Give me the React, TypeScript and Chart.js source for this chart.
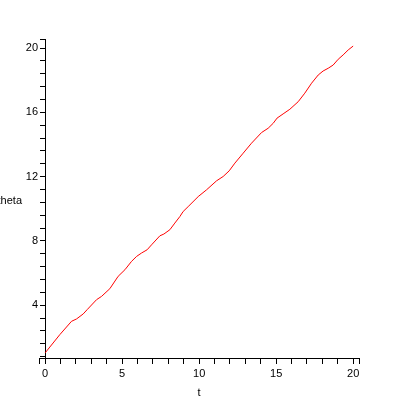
import { useEffect, useRef } from "react";
import { Chart, registerables } from "chart.js";

Chart.register(...registerables);

// curve
const tValues = [
  0, 0.95, 1.71, 2.04, 2.47, 2.73, 3.34, 3.66, 4.2, 4.74,
  5.18, 5.61, 5.94, 6.26, 6.62, 6.91, 7.45, 7.71, 8.1, 8.42,
  8.75, 8.96, 9.29, 9.94, 10.48, 11.13, 11.56, 11.95, 12.32, 12.86,
  13.4, 14.05, 14.48, 14.81, 15.06, 15.45, 15.89, 16.43, 16.86, 17.3,
  17.73, 18.05, 18.38, 18.7, 19.03, 19.35, 19.68, 20,
];
const thetaValues = [
  1.04, 2.17, 3.0, 3.15, 3.46, 3.73, 4.35, 4.55, 5.03, 5.8,
  6.21, 6.73, 7.04, 7.25, 7.45, 7.76, 8.32, 8.43, 8.7, 9.11,
  9.52, 9.83, 10.14, 10.76, 11.18, 11.74, 12.01, 12.36, 12.84, 13.46,
  14.08, 14.74, 15.01, 15.32, 15.64, 15.9, 16.19, 16.66, 17.19, 17.81,
  18.32, 18.57, 18.74, 18.94, 19.3, 19.57, 19.88, 20.12,
];

const xMajorTicks = [0, 5, 10, 15, 20];
const yMajorTicks = [4, 8, 12, 16, 20];
const xMinorStep = 1;
const yMinorStep = 0.8;
const xRange = [-0.4, 20.38];
const yRange = [0.72, 20.56];
const xTitle = "t";
const yTitle = "theta";

const FONT = { family: "'Liberation Sans', Arial, sans-serif", size: 11 };

function tickList(range: number[], step: number) {
  const out = [range[0]];
  for (let k = Math.ceil(range[0] / step - 1e-9); k * step <= range[1] + 1e-9; k++) {
    const v = Math.round(k * step * 100) / 100;
    if (v > range[0]) out.push(v);
  }
  out.push(range[1]);
  return out;
}

const yTitlePlugin = {
  id: "yTitle",
  afterDraw(chart: Chart) {
    const { ctx, chartArea } = chart;
    ctx.save();
    ctx.font = `${FONT.size}px ${FONT.family}`;
    ctx.fillStyle = "#000";
    ctx.textAlign = "right";
    ctx.textBaseline = "middle";
    ctx.fillText(yTitle, 22, (chartArea.top + chartArea.bottom) / 2 + 2);
    ctx.restore();
  },
};

export default function App() {
  const canvasRef = useRef<HTMLCanvasElement>(null);

  useEffect(() => {
    if (!canvasRef.current) return;
    const yTicks = (scale: any) => {
      scale.ticks = tickList(yRange, yMinorStep).map((value) => ({ value }));
    };
    const chart = new Chart(canvasRef.current, {
      type: "scatter",
      data: {
        datasets: [
          {
            data: tValues.map((t, i) => ({ x: t, y: thetaValues[i] })),
            showLine: true,
            borderColor: "#ff0000",
            borderWidth: 1,
            pointRadius: 0,
            tension: 0,
          },
        ],
      },
      options: {
        responsive: false,
        animation: false,
        layout: { padding: { left: 0, right: 41, top: 39, bottom: 0 } },
        plugins: { legend: { display: false }, tooltip: { enabled: false } },
        scales: {
          x: {
            type: "linear",
            position: "bottom",
            min: xRange[0],
            max: xRange[1],
            afterBuildTicks: (scale: any) => {
              scale.ticks = tickList(xRange, xMinorStep).map((value) => ({ value }));
            },
            afterFit: (scale: any) => {
              scale.height = 42;
            },
            grid: { drawOnChartArea: false, tickLength: 6, tickColor: "#000" },
            border: { color: "#000" },
            ticks: {
              autoSkip: false,
              maxRotation: 0,
              padding: 3,
              color: "#000",
              font: FONT,
              callback: (v: any) => (xMajorTicks.includes(v) ? String(v) : ""),
            },
            title: { display: true, text: xTitle, color: "#000", font: FONT, padding: { top: 1, bottom: 0 } },
          },
          // the axis line with its tick marks, through t = 0
          y: {
            type: "linear",
            position: { x: 0 },
            min: yRange[0],
            max: yRange[1],
            afterBuildTicks: yTicks,
            afterFit: (scale: any) => {
              scale.width = 0;
            },
            grid: { drawOnChartArea: false, tickLength: 5, tickColor: "#000" },
            border: { color: "#000" },
            ticks: { display: false, autoSkip: false },
          },
          // only the tick labels, left of the axis
          yLabels: {
            type: "linear",
            axis: "y",
            position: "left",
            min: yRange[0],
            max: yRange[1],
            afterBuildTicks: yTicks,
            afterFit: (scale: any) => {
              scale.width = 39;
            },
            grid: { display: false, drawTicks: false },
            border: { display: false },
            ticks: {
              autoSkip: false,
              padding: 1,
              color: "#000",
              font: FONT,
              callback: (v: any) => (yMajorTicks.includes(v) ? String(v) : ""),
            },
          },
        },
      },
      plugins: [yTitlePlugin],
    });
    return () => chart.destroy();
  }, []);

  return (
    <div style={{ position: "fixed", left: 0, top: 0, width: 400, height: 400, background: "#fff" }}>
      <canvas ref={canvasRef} width={400} height={400} />
    </div>
  );
}
